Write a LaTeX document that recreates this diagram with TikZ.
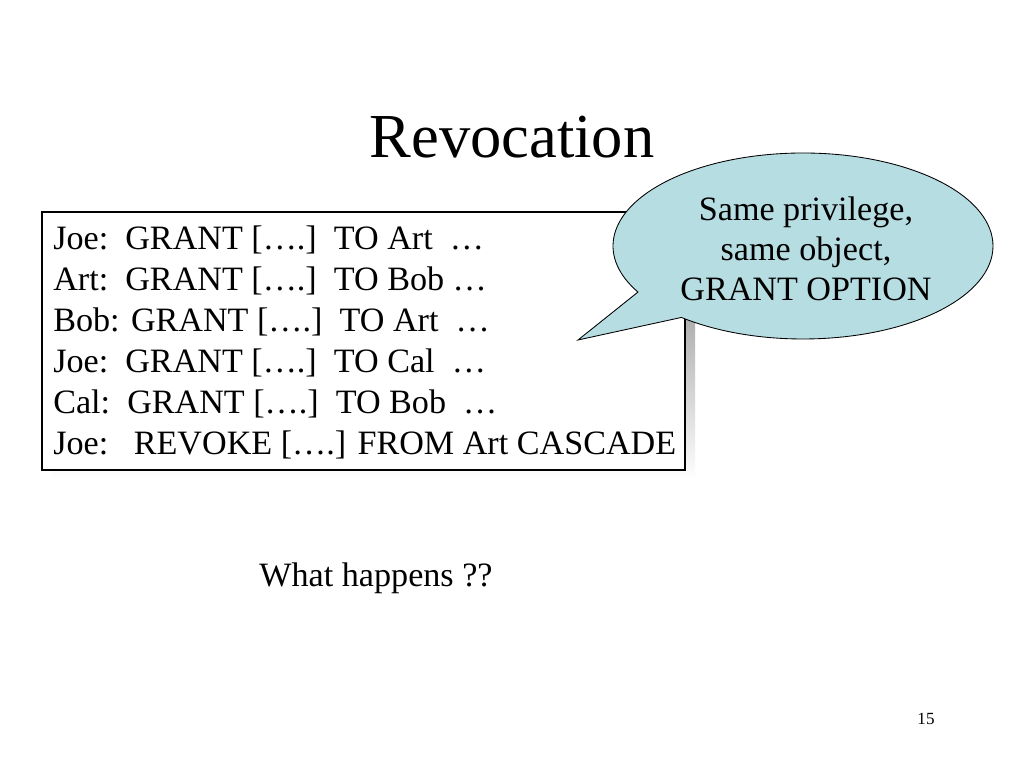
\documentclass[tikz,border=0pt]{standalone}
\usepackage{fontspec}
\setmainfont{Liberation Serif}

\definecolor{bubble}{RGB}{182,221,226}
\definecolor{shade}{RGB}{120,120,120}

\tikzset{
    cmd/.style={anchor=base west, inner sep=0pt, font=\fontsize{24}{28}\selectfont},
    bubbletext/.style={align=center, inner sep=0pt, font=\fontsize{24}{28}\selectfont}
}

\begin{document}
\begin{tikzpicture}[x=0.703125pt, y=0.703125pt]
    \useasboundingbox [fill=white] (0, 0) rectangle (1024, 768);

    \node (title) [anchor=base, inner sep=0pt, font=\fontsize{44}{52}\selectfont] at (512, 610) {Revocation};

    \fill [shade] (52, 288) rectangle (695, 546);
    \draw [fill=white, line width=0.75pt] (42, 298) rectangle (685, 556);

    \node (joeart) [cmd] at (53, 518) {Joe:\ \ GRANT [\dots.]\ \ TO Art\ \ \dots};
    \node (artbob) [cmd] at (53, 477) {Art:\ \ GRANT [\dots.]\ \ TO Bob \dots};
    \node (bobart) [cmd] at (53, 436) {Bob: GRANT [\dots.]\ \ TO Art\ \ \dots};
    \node (joecal) [cmd] at (53, 395) {Joe:\ \ GRANT [\dots.]\ \ TO Cal\ \ \dots};
    \node (calbob) [cmd] at (53, 354) {Cal:\ \ GRANT [\dots.]\ \ TO Bob\ \ \dots};
    \node (revoke) [cmd] at (53, 313) {Joe:\ \ \ REVOKE [\dots.] FROM Art CASCADE};

    \coordinate (centre) at (803, 522);
    \coordinate (tip) at (578, 428);
    \draw [fill=bubble, line width=0.6pt] (centre) ++(230.2:190 and 93)
        arc [start angle=230.2, end angle=569.7, x radius=190, y radius=93]
        -- (tip) -- cycle;
    \node (note) [bubbletext] at (806, 519) {Same privilege,\\same object,\\GRANT OPTION};

    \node (question) [anchor=base, inner sep=0pt, font=\fontsize{24}{28}\selectfont] at (376, 181) {What happens ??};

    \node (page) [anchor=base, inner sep=0pt, font=\fontsize{12}{14}\selectfont] at (926, 43) {15};
\end{tikzpicture}
\end{document}
